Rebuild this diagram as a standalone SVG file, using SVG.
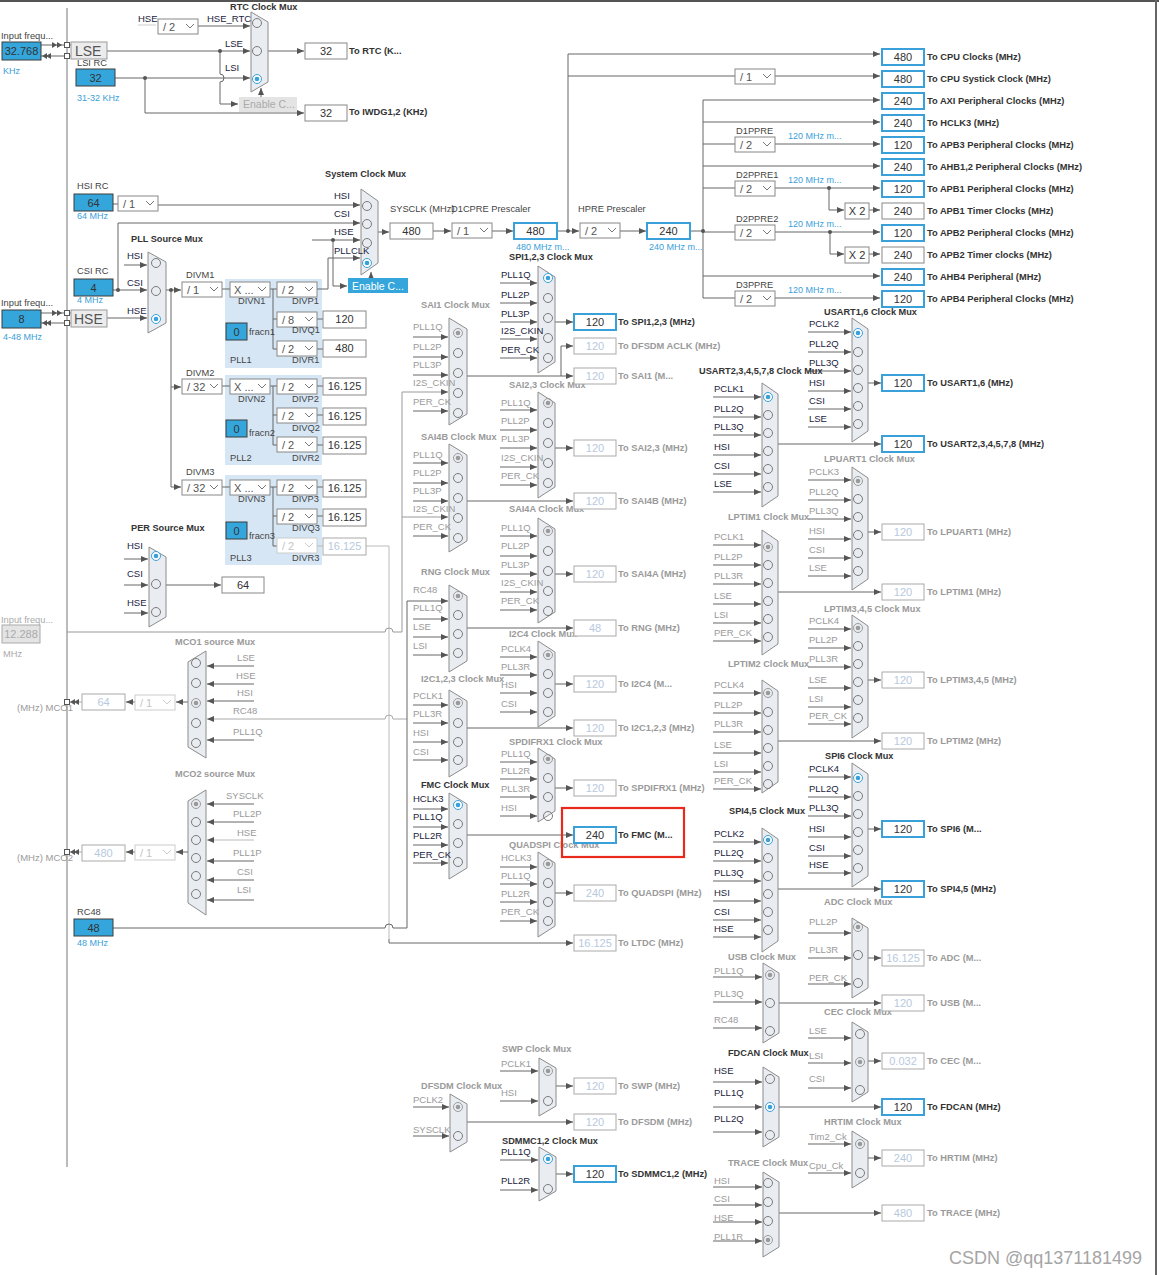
<svg xmlns="http://www.w3.org/2000/svg" width="1159" height="1275" viewBox="0 0 1159 1275" font-family="'Liberation Sans', Arial, sans-serif">
<defs>
<marker id="ar" markerWidth="7" markerHeight="6" refX="7" refY="3" orient="auto" markerUnits="userSpaceOnUse"><path d="M0,0L7,3L0,6z" fill="#555"/></marker>
<g id="c0"><circle r="4.5" fill="none" stroke="#7a7a7a"/></g>
<g id="c1"><circle r="4.5" fill="#fff" stroke="#3aa0da"/><circle r="2.3" fill="#3aa0da"/></g>
<g id="c2"><circle r="4.5" fill="none" stroke="#9a9a9a"/><circle r="2.3" fill="#9a9a9a"/></g>
<g id="dd"><rect width="40" height="15" fill="#fff" stroke="#888"/><polyline points="28,5 32,9 36,5" fill="none" stroke="#777"/></g>
<g id="ddg"><rect width="40" height="15" fill="#fff" stroke="#ccc"/><polyline points="28,5 32,9 36,5" fill="none" stroke="#ccc"/></g>
</defs>
<style>
.h{font-size:9.2px;font-weight:bold;fill:#333}
.hg{font-size:9.2px;font-weight:bold;fill:#9a9a9a}
.l{font-size:9.5px;fill:#1c2340}
.lg{font-size:9.5px;fill:#9a9a9a}
.t{font-size:9.3px;font-weight:bold;fill:#333}
.tg{font-size:9.3px;font-weight:bold;fill:#9a9a9a}
.v{font-size:11px;fill:#333;text-anchor:middle}
.vg{font-size:11px;fill:#b7c9de;text-anchor:middle}
.b{font-size:9px;fill:#3aa0da}
.d{font-size:11px;fill:#555}
.dg{font-size:11px;fill:#c4c4c4}
.s{font-size:9.3px;fill:#444}
.sg{font-size:9.3px;fill:#aaa}
.vb{fill:#fff;stroke:#888}
.vbb{fill:#fff;stroke:#3aa0da;stroke-width:2}
.vbg{fill:#fff;stroke:#aaa}
.src{fill:#35a6db;stroke:#3d3d3d}
.mx{fill:#e9edf1;stroke:#8c8c8c}
.a{marker-end:url(#ar)}
.pll{fill:#d6e6f4}
</style>
<rect width="1159" height="1275" fill="#fff"/>
<line x1="0" y1="1" x2="1159" y2="1" stroke="#555" stroke-width="2"/>
<line x1="1156" y1="0" x2="1156" y2="1275" stroke="#666" stroke-width="2"/>
<line x1="67" y1="8" x2="67" y2="1167" stroke="#777"/>

<rect class="pll" x="225" y="279" width="97" height="89"/>
<rect class="pll" x="225" y="375" width="97" height="90"/>
<rect class="pll" x="225" y="475" width="97" height="90"/>

<g id="connectors" fill="none" stroke="#666" stroke-width="1">
<path d="M41,45H64M41,56H64M69,45H71M69,56H71M41,313H64M41,323H64M69,313H71M69,323H71"/>
<path d="M82,702H64M82,852H64" stroke="#aaa"/>
<path d="M138,25H156" stroke="#ccc"/>
<path class="a" d="M197,26H250"/>
<path class="a" d="M107,51H250"/>
<path class="a" d="M115,78H250"/>
<path class="a" d="M220,51V74a4,4 0 0 1 0,8V104H238"/>
<path class="a" d="M261,97V88"/>
<path class="a" d="M268,51H304"/>
<path class="a" d="M145,78V113H304"/>
<path d="M113,204H118"/>
<path class="a" d="M157,205H360"/>
<path class="a" d="M113,290H147"/>
<path class="a" d="M118,290V223H360"/>
<path class="a" d="M124,265H147"/>
<path class="a" d="M107,318H147"/>
<path class="a" d="M312,240H360"/>
<path class="a" d="M333,240V286H347"/>
<path class="a" d="M317,289H328V258H360"/>
<path class="a" d="M371,280V272"/>
<path class="a" d="M378,232H389"/>
<path class="a" d="M433,231H451"/>
<path class="a" d="M492,231H513"/>
<path class="a" d="M557,231H579"/>
<path class="a" d="M568,231V54H880"/>
<path d="M568,76H735"/>
<path class="a" d="M775,76H880"/>
<path class="a" d="M620,231H646"/>
<path d="M690,231H703M703,100V298"/>
<path class="a" d="M703,100H880"/>
<path class="a" d="M703,122H880"/>
<path d="M703,144H735"/><path class="a" d="M775,144H880"/>
<path class="a" d="M703,166H880"/>
<path d="M703,188H735"/><path class="a" d="M775,188H880"/>
<path class="a" d="M829,188V210H844"/><path class="a" d="M869,210H880"/>
<path d="M703,232H735"/><path class="a" d="M775,232H880"/>
<path class="a" d="M830,232V254H844"/><path class="a" d="M869,254H880"/>
<path class="a" d="M703,276H880"/>
<path d="M703,298H735"/><path class="a" d="M775,298H880"/>
<path class="a" d="M166,290H181"/>
<path d="M171,290V487"/>
<path class="a" d="M171,387H181"/>
<path class="a" d="M171,487H181"/>
<path d="M221,289H230M270,289H277M273,289V349M273,319H277M273,349H277M317,319H323M317,349H323"/>
<path d="M221,386H230M270,386H277M273,386V445M273,415H277M273,445H277M317,386H323M317,415H323M317,445H323"/>
<path d="M221,487H230M270,487H277M273,487V546M273,516H277M273,546H277M317,487H323M317,516H323"/>
<path d="M317,546H323M366,546H389V939" stroke="#bbb"/>
<path class="a" d="M389,939V943H573"/>
<path class="a" d="M124,559H148"/><path class="a" d="M124,585H148"/><path class="a" d="M124,613H148"/>
<path class="a" d="M166,585H221"/>
<path class="a" d="M67,632H385a4,4 0 0 1 8,0H402V392H448" stroke="#999"/>
<path class="a" d="M402,517H448" stroke="#999"/>
<path class="a" d="M254,666H207"/><path class="a" d="M254,684H207"/><path class="a" d="M254,701H207"/>
<path class="a" d="M407,719H393a4,4 0 0 0 -8,0H207" stroke="#aaa"/>
<path class="a" d="M254,740H207"/>
<path class="a" d="M188,702H176"/><path class="a" d="M135,702H126"/>
<path class="a" d="M254,804H207"/><path class="a" d="M254,822H207"/><path class="a" d="M254,840H207" stroke="#bbb"/>
<path class="a" d="M254,861H207"/><path class="a" d="M254,880H207"/><path class="a" d="M254,900H207"/>
<path class="a" d="M188,852H176"/><path class="a" d="M135,852H126"/>
<path class="a" d="M113,928H385a4,4 0 0 1 8,0H407V601H448"/>
<path class="a" d="M500,283H537"/><path class="a" d="M500,303H537"/><path class="a" d="M500,322H537"/><path class="a" d="M500,339H537"/><path class="a" d="M500,358H537"/>
<path class="a" d="M413,337H448"/><path class="a" d="M413,357H448"/><path class="a" d="M413,375H448"/><path class="a" d="M413,411H448"/>
<path class="a" d="M500,410H537"/><path class="a" d="M500,430H537"/><path class="a" d="M500,448H537"/><path class="a" d="M500,467H537"/><path class="a" d="M500,485H537"/>
<path class="a" d="M413,463H448"/><path class="a" d="M413,483H448"/><path class="a" d="M413,501H448"/><path class="a" d="M413,536H448"/>
<path class="a" d="M500,536H537"/><path class="a" d="M500,556H537"/><path class="a" d="M500,574H537"/><path class="a" d="M500,592H537"/><path class="a" d="M500,610H537"/>
<path class="a" d="M413,619H448"/><path class="a" d="M413,637H448"/><path class="a" d="M413,655H448"/>
<path class="a" d="M500,657H537"/><path class="a" d="M500,675H537"/><path class="a" d="M500,693H537"/><path class="a" d="M500,712H537"/>
<path class="a" d="M413,705H448"/><path class="a" d="M413,723H448"/><path class="a" d="M413,742H448"/><path class="a" d="M413,760H448"/>
<path class="a" d="M500,762H537"/><path class="a" d="M500,779H537"/><path class="a" d="M500,797H537"/><path class="a" d="M500,816H537"/>
<path class="a" d="M413,809H448"/><path class="a" d="M413,827H448"/><path class="a" d="M413,845H448"/><path class="a" d="M413,863H448"/>
<path class="a" d="M500,867H537"/><path class="a" d="M500,884H537"/><path class="a" d="M500,902H537"/><path class="a" d="M500,921H537"/>
<path class="a" d="M500,1071H538"/><path class="a" d="M500,1101H538"/>
<path class="a" d="M413,1107H449"/><path class="a" d="M413,1136H449"/>
<path class="a" d="M500,1160H538"/><path class="a" d="M500,1190H538"/>
<path class="a" d="M555,322H573"/>
<path class="a" d="M467,376H573"/><path class="a" d="M561,376V346H573"/>
<path class="a" d="M555,448H573"/>
<path class="a" d="M467,501H573"/>
<path class="a" d="M555,574H573"/>
<path class="a" d="M467,628H573"/>
<path class="a" d="M555,684H573"/>
<path class="a" d="M467,728H573"/>
<path class="a" d="M555,788H573"/>
<path class="a" d="M467,835H573"/>
<path class="a" d="M555,893H573"/>
<path class="a" d="M556,1086H573"/>
<path class="a" d="M467,1122H573"/>
<path class="a" d="M556,1174H573"/>
<path class="a" d="M808,332H851"/><path class="a" d="M808,352H851"/><path class="a" d="M808,371H851"/><path class="a" d="M808,391H851"/><path class="a" d="M808,409H851"/><path class="a" d="M808,427H851"/>
<path class="a" d="M713,397H761"/><path class="a" d="M713,417H761"/><path class="a" d="M713,435H761"/><path class="a" d="M713,455H761"/><path class="a" d="M713,474H761"/><path class="a" d="M713,492H761"/>
<path class="a" d="M808,480H851"/><path class="a" d="M808,500H851"/><path class="a" d="M808,519H851"/><path class="a" d="M808,539H851"/><path class="a" d="M808,558H851"/><path class="a" d="M808,576H851"/>
<path class="a" d="M713,545H761"/><path class="a" d="M713,565H761"/><path class="a" d="M713,584H761"/><path class="a" d="M713,604H761"/><path class="a" d="M713,623H761"/><path class="a" d="M713,641H761"/>
<path class="a" d="M808,629H851"/><path class="a" d="M808,648H851"/><path class="a" d="M808,667H851"/><path class="a" d="M808,688H851"/><path class="a" d="M808,707H851"/><path class="a" d="M808,724H851"/>
<path class="a" d="M713,693H761"/><path class="a" d="M713,713H761"/><path class="a" d="M713,732H761"/><path class="a" d="M713,753H761"/><path class="a" d="M713,772H761"/><path class="a" d="M713,789H761"/>
<path class="a" d="M808,777H851"/><path class="a" d="M808,797H851"/><path class="a" d="M808,816H851"/><path class="a" d="M808,837H851"/><path class="a" d="M808,856H851"/><path class="a" d="M808,873H851"/>
<path class="a" d="M713,842H761"/><path class="a" d="M713,861H761"/><path class="a" d="M713,881H761"/><path class="a" d="M713,901H761"/><path class="a" d="M713,920H761"/><path class="a" d="M713,937H761"/>
<path class="a" d="M808,933H851"/><path class="a" d="M808,958H851"/><path class="a" d="M808,984H851"/>
<path class="a" d="M713,977H762"/><path class="a" d="M713,1002H762"/><path class="a" d="M713,1028H762"/>
<path class="a" d="M808,1038H851"/><path class="a" d="M808,1063H851"/><path class="a" d="M808,1088H851"/>
<path class="a" d="M713,1082H762"/><path class="a" d="M713,1107H762"/><path class="a" d="M713,1132H762"/>
<path class="a" d="M808,1144H851"/><path class="a" d="M808,1173H851"/>
<path class="a" d="M713,1187H762"/><path class="a" d="M713,1205H762"/><path class="a" d="M713,1222H762"/><path class="a" d="M713,1241H762"/>
<path class="a" d="M868,383H881"/>
<path class="a" d="M778,444H881"/>
<path class="a" d="M868,532H881"/>
<path class="a" d="M778,592H881"/>
<path class="a" d="M868,680H881"/>
<path class="a" d="M778,741H881"/>
<path class="a" d="M868,829H881"/>
<path class="a" d="M778,889H881"/>
<path class="a" d="M868,958H881"/>
<path class="a" d="M779,1003H881"/>
<path class="a" d="M868,1061H881"/>
<path class="a" d="M779,1107H881"/>
<path class="a" d="M868,1158H881"/>
<path class="a" d="M779,1213H881"/>
<g fill="#555" stroke="none">
<circle cx="220" cy="51" r="2"/><circle cx="145" cy="78" r="2"/><circle cx="118" cy="290" r="2"/><circle cx="333" cy="240" r="2"/>
<circle cx="171" cy="290" r="2"/><circle cx="568" cy="231" r="2"/><circle cx="703" cy="231" r="2"/><circle cx="829" cy="188" r="2"/><circle cx="830" cy="232" r="2"/>
<polygon points="52,42 57,45 52,48"/><polygon points="57,42 62,45 57,48"/>
<polygon points="42,56 47,53 47,59"/><polygon points="46,56 51,53 51,59"/>
<polygon points="52,310 57,313 52,316"/><polygon points="57,310 62,313 57,316"/>
<polygon points="42,323 47,320 47,326"/><polygon points="46,323 51,320 51,326"/>
<polygon points="70,702 75,699 75,705"/><polygon points="74,702 79,699 79,705"/>
<polygon points="70,852 75,849 75,855"/><polygon points="74,852 79,849 79,855"/>
</g>
<g fill="#fff" stroke="#555">
<rect x="64.5" y="42.5" width="5" height="5"/><rect x="64.5" y="53.5" width="5" height="5"/>
<rect x="64.5" y="310.5" width="5" height="5"/><rect x="64.5" y="320.5" width="5" height="5"/>
<rect x="64.5" y="699.5" width="5" height="5"/><rect x="64.5" y="849.5" width="5" height="5"/>
</g>
</g>

<g id="lse-input"><text class="s" x="1" y="39">Input frequ...</text><rect class="src" x="2" y="42" width="39" height="18"/><text class="v" x="21.5" y="55">32.768</text><text class="b" x="3" y="74">KHz</text></g>
<g id="lse"><rect x="71" y="42" width="36" height="17" fill="#ececec" stroke="#999"/><text x="75" y="56" font-size="14" fill="#555">LSE</text></g>
<g id="lsi-rc"><text class="s" x="77" y="66">LSI RC</text><rect class="src" x="76" y="69" width="39" height="17"/><text class="v" x="95.5" y="82">32</text><text class="b" x="77" y="101">31-32 KHz</text></g>
<g id="rtc-mux">
<polygon class="mx" points="251,12 268,22 268,82 251,92"/>
<use href="#c0" x="257" y="23"/><use href="#c0" x="257" y="51"/><use href="#c1" x="257" y="79"/>
<text class="h" x="230" y="10">RTC Clock Mux</text>
<text class="l" x="138" y="22">HSE</text><text class="l" x="207" y="22">HSE_RTC</text>
<use href="#dd" x="158" y="19"/><text class="d" x="163" y="31">/ 2</text>
<text class="l" x="225" y="47">LSE</text><text class="l" x="225" y="71">LSI</text>
</g>
<g id="enable-rtc"><rect x="239" y="97" width="58" height="15" fill="#e4e4e4"/><text x="243" y="108" font-size="10.5" fill="#aaa">Enable C...</text></g>
<g id="to-rtc"><rect class="vb" x="305" y="43" width="42" height="16"/><text class="v" x="326" y="55">32</text><text class="t" x="349" y="54">To RTC (K...</text></g>
<g id="to-iwdg"><rect class="vb" x="305" y="105" width="42" height="16"/><text class="v" x="326" y="117">32</text><text class="t" x="349" y="115">To IWDG1,2 (KHz)</text></g>

<g id="hsi-rc"><text class="s" x="77" y="189">HSI RC</text><rect class="src" x="74" y="194" width="39" height="17"/><text class="v" x="93.5" y="207">64</text><text class="b" x="77" y="219">64 MHz</text></g>
<g id="hsi-div"><use href="#dd" x="118" y="196"/><text class="d" x="123" y="208">/ 1</text></g>
<g id="csi-rc"><text class="s" x="77" y="274">CSI RC</text><rect class="src" x="74" y="279" width="39" height="17"/><text class="v" x="93.5" y="292">4</text><text class="b" x="77" y="303">4 MHz</text></g>
<g id="hse-input"><text class="s" x="1" y="306">Input frequ...</text><rect class="src" x="2" y="310" width="39" height="18"/><text class="v" x="21.5" y="323">8</text><text class="b" x="3" y="340">4-48 MHz</text></g>
<g id="hse"><rect x="71" y="310" width="36" height="17" fill="#ececec" stroke="#999"/><text x="74" y="324" font-size="14" fill="#555">HSE</text></g>

<g id="pll-source-mux">
<polygon class="mx" points="148,252 166,262 166,323 148,333"/>
<use href="#c0" x="156" y="263"/><use href="#c0" x="156" y="291"/><use href="#c1" x="156" y="319"/>
<text class="h" x="131" y="242">PLL Source Mux</text>
<text class="l" x="127" y="259">HSI</text><text class="l" x="127" y="286">CSI</text><text class="l" x="127" y="314">HSE</text>
</g>

<g id="system-clock-mux">
<polygon class="mx" points="361,189 378,201 378,263 361,275"/>
<use href="#c0" x="367" y="206"/><use href="#c0" x="367" y="224"/><use href="#c0" x="367" y="243"/><use href="#c1" x="367" y="263"/>
<text class="h" x="325" y="177">System Clock Mux</text>
<text class="l" x="334" y="199">HSI</text><text class="l" x="334" y="217">CSI</text><text class="l" x="334" y="235">HSE</text><text class="l" x="334" y="254">PLLCLK</text>
</g>
<g id="enable-sys"><rect x="348" y="278" width="60" height="15" fill="#35a6db"/><text x="352" y="290" font-size="10.5" fill="#fff">Enable C...</text></g>

<g id="sysclk"><text class="s" x="390" y="212">SYSCLK (MHz)</text><rect class="vb" x="390" y="223" width="43" height="16"/><text class="v" x="411.5" y="235">480</text></g>
<g id="d1cpre"><text class="s" x="451" y="212">D1CPRE Prescaler</text><use href="#dd" x="452" y="223"/><text class="d" x="457" y="235">/ 1</text></g>
<g id="d1cpre-out"><rect class="vbb" x="514" y="223" width="43" height="16"/><text class="v" x="535.5" y="235">480</text><text class="b" x="516" y="250">480 MHz m...</text></g>
<g id="hpre"><text class="s" x="578" y="212">HPRE Prescaler</text><use href="#dd" x="580" y="223"/><text class="d" x="585" y="235">/ 2</text></g>
<g id="hpre-out"><rect class="vbb" x="647" y="223" width="43" height="16"/><text class="v" x="668.5" y="235">240</text><text class="b" x="649" y="250">240 MHz m...</text></g>
<g id="systick-div"><use href="#dd" x="735" y="69"/><text class="d" x="740" y="81">/ 1</text></g>
<g id="d1ppre"><text class="s" x="736" y="134">D1PPRE</text><use href="#dd" x="735" y="137"/><text class="d" x="740" y="149">/ 2</text><text class="b" x="788" y="139">120 MHz m...</text></g>
<g id="d2ppre1"><text class="s" x="736" y="178">D2PPRE1</text><use href="#dd" x="735" y="181"/><text class="d" x="740" y="193">/ 2</text><text class="b" x="788" y="183">120 MHz m...</text></g>
<g id="d2ppre2"><text class="s" x="736" y="222">D2PPRE2</text><use href="#dd" x="735" y="225"/><text class="d" x="740" y="237">/ 2</text><text class="b" x="788" y="227">120 MHz m...</text></g>
<g id="d3ppre"><text class="s" x="736" y="288">D3PPRE</text><use href="#dd" x="735" y="291"/><text class="d" x="740" y="303">/ 2</text><text class="b" x="788" y="293">120 MHz m...</text></g>
<g id="x2-apb1"><rect class="vb" x="845" y="203" width="24" height="16"/><text class="v" x="857" y="215">X 2</text></g>
<g id="x2-apb2"><rect class="vb" x="845" y="247" width="24" height="16"/><text class="v" x="857" y="259">X 2</text></g>

<g id="bus-outputs">
<rect class="vbb" x="882" y="49" width="42" height="16"/><text class="v" x="903" y="61">480</text><text class="t" x="927" y="60">To CPU Clocks (MHz)</text>
<rect class="vbb" x="882" y="71" width="42" height="16"/><text class="v" x="903" y="83">480</text><text class="t" x="927" y="82">To CPU Systick Clock (MHz)</text>
<rect class="vbb" x="882" y="93" width="42" height="16"/><text class="v" x="903" y="105">240</text><text class="t" x="927" y="104">To AXI Peripheral Clocks (MHz)</text>
<rect class="vbb" x="882" y="115" width="42" height="16"/><text class="v" x="903" y="127">240</text><text class="t" x="927" y="126">To HCLK3 (MHz)</text>
<rect class="vbb" x="882" y="137" width="42" height="16"/><text class="v" x="903" y="149">120</text><text class="t" x="927" y="148">To APB3 Peripheral Clocks (MHz)</text>
<rect class="vbb" x="882" y="159" width="42" height="16"/><text class="v" x="903" y="171">240</text><text class="t" x="927" y="170">To AHB1,2 Peripheral Clocks (MHz)</text>
<rect class="vbb" x="882" y="181" width="42" height="16"/><text class="v" x="903" y="193">120</text><text class="t" x="927" y="192">To APB1 Peripheral Clocks (MHz)</text>
<rect class="vb" x="882" y="203" width="42" height="16"/><text class="v" x="903" y="215">240</text><text class="t" x="927" y="214">To APB1 Timer Clocks (MHz)</text>
<rect class="vbb" x="882" y="225" width="42" height="16"/><text class="v" x="903" y="237">120</text><text class="t" x="927" y="236">To APB2 Peripheral Clocks (MHz)</text>
<rect class="vb" x="882" y="247" width="42" height="16"/><text class="v" x="903" y="259">240</text><text class="t" x="927" y="258">To APB2 Timer clocks (MHz)</text>
<rect class="vbb" x="882" y="269" width="42" height="16"/><text class="v" x="903" y="281">240</text><text class="t" x="927" y="280">To AHB4 Peripheral (MHz)</text>
<rect class="vbb" x="882" y="291" width="42" height="16"/><text class="v" x="903" y="303">120</text><text class="t" x="927" y="302">To APB4 Peripheral Clocks (MHz)</text>
</g>

<g id="pll1">
<text class="s" x="186" y="278">DIVM1</text><use href="#dd" x="182" y="282"/><text class="d" x="187" y="294">/ 1</text>
<use href="#dd" x="230" y="282"/><text class="d" x="234" y="294">X ...</text><text class="s" x="238" y="304">DIVN1</text>
<use href="#dd" x="277" y="282"/><text class="d" x="282" y="294">/ 2</text><text class="s" x="292" y="304">DIVP1</text>
<use href="#dd" x="277" y="312"/><text class="d" x="282" y="324">/ 8</text><text class="s" x="292" y="333">DIVQ1</text>
<use href="#dd" x="277" y="341"/><text class="d" x="282" y="353">/ 2</text><text class="s" x="292" y="363">DIVR1</text>
<rect class="src" x="226" y="323" width="21" height="17"/><text class="v" x="236.5" y="336">0</text><text class="s" x="249" y="335">fracn1</text>
<text class="s" x="230" y="363">PLL1</text>
<rect class="vb" x="323" y="311" width="43" height="17"/><text class="v" x="344.5" y="323">120</text>
<rect class="vb" x="323" y="340" width="43" height="17"/><text class="v" x="344.5" y="352">480</text>
</g>
<g id="pll2">
<text class="s" x="186" y="376">DIVM2</text><use href="#dd" x="182" y="379"/><text class="d" x="187" y="391">/ 32</text>
<use href="#dd" x="230" y="379"/><text class="d" x="234" y="391">X ...</text><text class="s" x="238" y="402">DIVN2</text>
<use href="#dd" x="277" y="379"/><text class="d" x="282" y="391">/ 2</text><text class="s" x="292" y="402">DIVP2</text>
<use href="#dd" x="277" y="408"/><text class="d" x="282" y="420">/ 2</text><text class="s" x="292" y="431">DIVQ2</text>
<use href="#dd" x="277" y="437"/><text class="d" x="282" y="449">/ 2</text><text class="s" x="292" y="461">DIVR2</text>
<rect class="src" x="226" y="420" width="21" height="17"/><text class="v" x="236.5" y="433">0</text><text class="s" x="249" y="436">fracn2</text>
<text class="s" x="230" y="461">PLL2</text>
<rect class="vb" x="323" y="378" width="43" height="17"/><text class="v" x="344.5" y="390">16.125</text>
<rect class="vb" x="323" y="408" width="43" height="17"/><text class="v" x="344.5" y="420">16.125</text>
<rect class="vb" x="323" y="437" width="43" height="17"/><text class="v" x="344.5" y="449">16.125</text>
</g>
<g id="pll3">
<text class="s" x="186" y="475">DIVM3</text><use href="#dd" x="182" y="480"/><text class="d" x="187" y="492">/ 32</text>
<use href="#dd" x="230" y="480"/><text class="d" x="234" y="492">X ...</text><text class="s" x="238" y="502">DIVN3</text>
<use href="#dd" x="277" y="480"/><text class="d" x="282" y="492">/ 2</text><text class="s" x="292" y="502">DIVP3</text>
<use href="#dd" x="277" y="509"/><text class="d" x="282" y="521">/ 2</text><text class="s" x="292" y="531">DIVQ3</text>
<use href="#ddg" x="277" y="538"/><text class="dg" x="282" y="550">/ 2</text><text class="s" x="292" y="561">DIVR3</text>
<rect class="src" x="226" y="522" width="21" height="17"/><text class="v" x="236.5" y="535">0</text><text class="s" x="249" y="539">fracn3</text>
<text class="s" x="230" y="561">PLL3</text>
<rect class="vb" x="323" y="480" width="43" height="17"/><text class="v" x="344.5" y="492">16.125</text>
<rect class="vb" x="323" y="509" width="43" height="17"/><text class="v" x="344.5" y="521">16.125</text>
<rect class="vbg" x="323" y="538" width="43" height="17"/><text class="vg" x="344.5" y="550">16.125</text>
</g>

<g id="per-source-mux">
<polygon class="mx" points="149,547 166,557 166,617 149,627"/>
<use href="#c1" x="156" y="556"/><use href="#c0" x="156" y="584"/><use href="#c0" x="156" y="612"/>
<text class="h" x="131" y="531">PER Source Mux</text>
<text class="l" x="127" y="549">HSI</text><text class="l" x="127" y="577">CSI</text><text class="l" x="127" y="606">HSE</text>
</g>
<g id="per-out"><rect class="vb" x="222" y="577" width="42" height="16"/><text class="v" x="243" y="589">64</text></g>

<g id="i2s-input"><text class="sg" x="1" y="623">Input frequ...</text><rect x="2" y="625" width="38" height="18" fill="#e4e4e4" stroke="#aaa"/><text x="21" y="638" font-size="11" fill="#aaa" text-anchor="middle">12.288</text><text class="sg" x="3" y="657">MHz</text></g>

<g id="mco1-mux">
<polygon class="mx" points="206,651 188,662 188,747 206,758"/>
<use href="#c0" x="196" y="663"/><use href="#c0" x="196" y="683"/><use href="#c2" x="196" y="703"/><use href="#c0" x="196" y="723"/><use href="#c0" x="196" y="743"/>
<text class="hg" x="175" y="645">MCO1 source Mux</text>
<text class="lg" x="237" y="661">LSE</text><text class="lg" x="236" y="679">HSE</text><text class="lg" x="237" y="696">HSI</text><text class="lg" x="233" y="714">RC48</text><text class="lg" x="233" y="735">PLL1Q</text>
</g>
<g id="mco1-out"><use href="#ddg" x="135" y="695"/><text class="dg" x="140" y="707">/ 1</text><rect class="vbg" x="82" y="694" width="43" height="16"/><text class="vg" x="103.5" y="706">64</text><text class="lg" x="17" y="711">(MHz) MCO1</text></g>
<g id="mco2-mux">
<polygon class="mx" points="206,790 188,801 188,903 206,915"/>
<use href="#c2" x="196" y="804"/><use href="#c0" x="196" y="822"/><use href="#c0" x="196" y="840"/><use href="#c0" x="196" y="858"/><use href="#c0" x="196" y="876"/><use href="#c0" x="196" y="894"/>
<text class="hg" x="175" y="777">MCO2 source Mux</text>
<text class="lg" x="226" y="799">SYSCLK</text><text class="lg" x="233" y="817">PLL2P</text><text class="lg" x="237" y="836">HSE</text><text class="lg" x="233" y="856">PLL1P</text><text class="lg" x="237" y="875">CSI</text><text class="lg" x="237" y="893">LSI</text>
</g>
<g id="mco2-out"><use href="#ddg" x="135" y="845"/><text class="dg" x="140" y="857">/ 1</text><rect class="vbg" x="82" y="845" width="43" height="16"/><text class="vg" x="103.5" y="857">480</text><text class="lg" x="17" y="861">(MHz) MCO2</text></g>
<g id="rc48"><text class="s" x="77" y="915">RC48</text><rect class="src" x="74" y="919" width="39" height="17"/><text class="v" x="93.5" y="932">48</text><text class="b" x="77" y="946">48 MHz</text></g>

<g id="spi123-mux">
<polygon class="mx" points="538,266 555,277 555,362 538,373"/>
<use href="#c1" x="548" y="278"/><use href="#c0" x="548" y="298"/><use href="#c0" x="548" y="318"/><use href="#c0" x="548" y="338"/><use href="#c0" x="548" y="358"/>
<text class="h" x="509" y="260">SPI1,2,3 Clock Mux</text>
<text class="l" x="501" y="278">PLL1Q</text><text class="l" x="501" y="298">PLL2P</text><text class="l" x="501" y="317">PLL3P</text><text class="l" x="501" y="334">I2S_CKIN</text><text class="l" x="501" y="353">PER_CK</text>
</g>
<g id="sai1-mux">
<polygon class="mx" points="449,318 467,329 467,414 449,425"/>
<use href="#c2" x="458" y="333"/><use href="#c0" x="458" y="353"/><use href="#c0" x="458" y="373"/><use href="#c0" x="458" y="393"/><use href="#c0" x="458" y="413"/>
<text class="hg" x="421" y="308">SAI1 Clock Mux</text>
<text class="lg" x="413" y="330">PLL1Q</text><text class="lg" x="413" y="350">PLL2P</text><text class="lg" x="413" y="368">PLL3P</text><text class="lg" x="413" y="386">I2S_CKIN</text><text class="lg" x="413" y="405">PER_CK</text>
</g>
<g id="sai23-mux">
<polygon class="mx" points="538,392 555,403 555,487 538,498"/>
<use href="#c2" x="548" y="403"/><use href="#c0" x="548" y="423"/><use href="#c0" x="548" y="443"/><use href="#c0" x="548" y="463"/><use href="#c0" x="548" y="483"/>
<text class="hg" x="509" y="388">SAI2,3 Clock Mux</text>
<text class="lg" x="501" y="406">PLL1Q</text><text class="lg" x="501" y="424">PLL2P</text><text class="lg" x="501" y="442">PLL3P</text><text class="lg" x="501" y="461">I2S_CKIN</text><text class="lg" x="501" y="479">PER_CK</text>
</g>
<g id="sai4b-mux">
<polygon class="mx" points="449,444 467,455 467,541 449,552"/>
<use href="#c2" x="458" y="458"/><use href="#c0" x="458" y="478"/><use href="#c0" x="458" y="498"/><use href="#c0" x="458" y="518"/><use href="#c0" x="458" y="538"/>
<text class="hg" x="421" y="440">SAI4B Clock Mux</text>
<text class="lg" x="413" y="458">PLL1Q</text><text class="lg" x="413" y="476">PLL2P</text><text class="lg" x="413" y="494">PLL3P</text><text class="lg" x="413" y="512">I2S_CKIN</text><text class="lg" x="413" y="530">PER_CK</text>
</g>
<g id="sai4a-mux">
<polygon class="mx" points="538,518 555,529 555,612 538,623"/>
<use href="#c2" x="548" y="531"/><use href="#c0" x="548" y="551"/><use href="#c0" x="548" y="571"/><use href="#c0" x="548" y="591"/><use href="#c0" x="548" y="611"/>
<text class="hg" x="509" y="512">SAI4A Clock Mux</text>
<text class="lg" x="501" y="531">PLL1Q</text><text class="lg" x="501" y="549">PLL2P</text><text class="lg" x="501" y="568">PLL3P</text><text class="lg" x="501" y="586">I2S_CKIN</text><text class="lg" x="501" y="604">PER_CK</text>
</g>
<g id="rng-mux">
<polygon class="mx" points="449,585 467,596 467,661 449,672"/>
<use href="#c2" x="458" y="596"/><use href="#c0" x="458" y="615"/><use href="#c0" x="458" y="634"/><use href="#c0" x="458" y="653"/>
<text class="hg" x="421" y="575">RNG Clock Mux</text>
<text class="lg" x="413" y="593">RC48</text><text class="lg" x="413" y="611">PLL1Q</text><text class="lg" x="413" y="630">LSE</text><text class="lg" x="413" y="649">LSI</text>
</g>
<g id="i2c4-mux">
<polygon class="mx" points="538,641 555,652 555,716 538,727"/>
<use href="#c2" x="548" y="655"/><use href="#c0" x="548" y="674"/><use href="#c0" x="548" y="693"/><use href="#c0" x="548" y="712"/>
<text class="hg" x="509" y="637">I2C4 Clock Mux</text>
<text class="lg" x="501" y="652">PCLK4</text><text class="lg" x="501" y="670">PLL3R</text><text class="lg" x="501" y="688">HSI</text><text class="lg" x="501" y="707">CSI</text>
</g>
<g id="i2c123-mux">
<polygon class="mx" points="449,690 467,701 467,766 449,777"/>
<use href="#c2" x="458" y="703"/><use href="#c0" x="458" y="723"/><use href="#c0" x="458" y="742"/><use href="#c0" x="458" y="760"/>
<text class="hg" x="421" y="682">I2C1,2,3 Clock Mux</text>
<text class="lg" x="413" y="699">PCLK1</text><text class="lg" x="413" y="717">PLL3R</text><text class="lg" x="413" y="736">HSI</text><text class="lg" x="413" y="755">CSI</text>
</g>
<g id="spdifrx1-mux">
<polygon class="mx" points="538,748 555,759 555,811 538,822"/>
<use href="#c2" x="548" y="759"/><use href="#c0" x="548" y="778"/><use href="#c0" x="548" y="797"/><use href="#c0" x="548" y="816"/>
<text class="hg" x="509" y="745">SPDIFRX1 Clock Mux</text>
<text class="lg" x="501" y="757">PLL1Q</text><text class="lg" x="501" y="774">PLL2R</text><text class="lg" x="501" y="792">PLL3R</text><text class="lg" x="501" y="811">HSI</text>
</g>
<g id="fmc-mux">
<polygon class="mx" points="449,793 467,804 467,868 449,879"/>
<use href="#c1" x="458" y="805"/><use href="#c0" x="458" y="824"/><use href="#c0" x="458" y="843"/><use href="#c0" x="458" y="862"/>
<text class="h" x="421" y="788">FMC Clock Mux</text>
<text class="l" x="413" y="802">HCLK3</text><text class="l" x="413" y="820">PLL1Q</text><text class="l" x="413" y="839">PLL2R</text><text class="l" x="413" y="858">PER_CK</text>
</g>
<g id="quadspi-mux">
<polygon class="mx" points="538,852 555,863 555,926 538,937"/>
<use href="#c2" x="548" y="864"/><use href="#c0" x="548" y="883"/><use href="#c0" x="548" y="902"/><use href="#c0" x="548" y="921"/>
<text class="hg" x="509" y="848">QUADSPI Clock Mux</text>
<text class="lg" x="501" y="861">HCLK3</text><text class="lg" x="501" y="879">PLL1Q</text><text class="lg" x="501" y="897">PLL2R</text><text class="lg" x="501" y="915">PER_CK</text>
</g>
<g id="swp-mux">
<polygon class="mx" points="539,1058 556,1068 556,1106 539,1116"/>
<use href="#c2" x="548" y="1071"/><use href="#c0" x="548" y="1101"/>
<text class="hg" x="502" y="1052">SWP Clock Mux</text>
<text class="lg" x="501" y="1067">PCLK1</text><text class="lg" x="501" y="1096">HSI</text>
</g>
<g id="dfsdm-mux">
<polygon class="mx" points="450,1094 467,1104 467,1142 450,1152"/>
<use href="#c2" x="458" y="1107"/><use href="#c0" x="458" y="1136"/>
<text class="hg" x="421" y="1089">DFSDM Clock Mux</text>
<text class="lg" x="413" y="1103">PCLK2</text><text class="lg" x="413" y="1133">SYSCLK</text>
</g>
<g id="sdmmc-mux">
<polygon class="mx" points="539,1147 556,1157 556,1191 539,1201"/>
<use href="#c1" x="548" y="1159"/><use href="#c0" x="548" y="1189"/>
<text class="h" x="502" y="1144">SDMMC1,2 Clock Mux</text>
<text class="l" x="501" y="1155">PLL1Q</text><text class="l" x="501" y="1184">PLL2R</text>
</g>

<g id="to-spi123"><rect class="vbb" x="574" y="314" width="42" height="16"/><text class="v" x="595" y="326">120</text><text class="t" x="618" y="325">To SPI1,2,3 (MHz)</text></g>
<g id="to-dfsdm-aclk"><rect class="vbg" x="574" y="338" width="42" height="16"/><text class="vg" x="595" y="350">120</text><text class="tg" x="618" y="349">To DFSDM ACLK (MHz)</text></g>
<g id="to-sai1"><rect class="vbg" x="574" y="368" width="42" height="16"/><text class="vg" x="595" y="380">120</text><text class="tg" x="618" y="379">To SAI1 (M...</text></g>
<g id="to-sai23"><rect class="vbg" x="574" y="440" width="42" height="16"/><text class="vg" x="595" y="452">120</text><text class="tg" x="618" y="451">To SAI2,3 (MHz)</text></g>
<g id="to-sai4b"><rect class="vbg" x="574" y="493" width="42" height="16"/><text class="vg" x="595" y="505">120</text><text class="tg" x="618" y="504">To SAI4B (MHz)</text></g>
<g id="to-sai4a"><rect class="vbg" x="574" y="566" width="42" height="16"/><text class="vg" x="595" y="578">120</text><text class="tg" x="618" y="577">To SAI4A (MHz)</text></g>
<g id="to-rng"><rect class="vbg" x="574" y="620" width="42" height="16"/><text class="vg" x="595" y="632">48</text><text class="tg" x="618" y="631">To RNG (MHz)</text></g>
<g id="to-i2c4"><rect class="vbg" x="574" y="676" width="42" height="16"/><text class="vg" x="595" y="688">120</text><text class="tg" x="618" y="687">To I2C4 (M...</text></g>
<g id="to-i2c123"><rect class="vbg" x="574" y="720" width="42" height="16"/><text class="vg" x="595" y="732">120</text><text class="tg" x="618" y="731">To I2C1,2,3 (MHz)</text></g>
<g id="to-spdifrx1"><rect class="vbg" x="574" y="780" width="42" height="16"/><text class="vg" x="595" y="792">120</text><text class="tg" x="618" y="791">To SPDIFRX1 (MHz)</text></g>
<g id="to-fmc"><rect class="vbb" x="574" y="827" width="42" height="16"/><text class="v" x="595" y="839">240</text><text class="t" x="618" y="838">To FMC (M...</text><rect x="562" y="808" width="122" height="49" fill="none" stroke="#e8291c" stroke-width="2.2"/></g>
<g id="to-quadspi"><rect class="vbg" x="574" y="885" width="42" height="16"/><text class="vg" x="595" y="897">240</text><text class="tg" x="618" y="896">To QUADSPI (MHz)</text></g>
<g id="to-ltdc"><rect class="vbg" x="574" y="935" width="42" height="16"/><text class="vg" x="595" y="947">16.125</text><text class="tg" x="618" y="946">To LTDC (MHz)</text></g>
<g id="to-swp"><rect class="vbg" x="574" y="1078" width="42" height="16"/><text class="vg" x="595" y="1090">120</text><text class="tg" x="618" y="1089">To SWP (MHz)</text></g>
<g id="to-dfsdm"><rect class="vbg" x="574" y="1114" width="42" height="16"/><text class="vg" x="595" y="1126">120</text><text class="tg" x="618" y="1125">To DFSDM (MHz)</text></g>
<g id="to-sdmmc"><rect class="vbb" x="574" y="1166" width="42" height="16"/><text class="v" x="595" y="1178">120</text><text class="t" x="618" y="1177">To SDMMC1,2 (MHz)</text></g>

<g id="usart16-mux">
<polygon class="mx" points="852,318 868,329 868,431 852,442"/>
<use href="#c1" x="858" y="333"/><use href="#c0" x="858" y="352"/><use href="#c0" x="858" y="370"/><use href="#c0" x="858" y="388"/><use href="#c0" x="858" y="406"/><use href="#c0" x="858" y="424"/>
<text class="h" x="824" y="315">USART1,6 Clock Mux</text>
<text class="l" x="809" y="327">PCLK2</text><text class="l" x="809" y="347">PLL2Q</text><text class="l" x="809" y="366">PLL3Q</text><text class="l" x="809" y="386">HSI</text><text class="l" x="809" y="404">CSI</text><text class="l" x="809" y="422">LSE</text>
</g>
<g id="usart2-mux">
<polygon class="mx" points="762,383 778,394 778,496 762,507"/>
<use href="#c1" x="768" y="397"/><use href="#c0" x="768" y="415"/><use href="#c0" x="768" y="433"/><use href="#c0" x="768" y="451"/><use href="#c0" x="768" y="469"/><use href="#c0" x="768" y="487"/>
<text class="h" x="699" y="374">USART2,3,4,5,7,8 Clock Mux</text>
<text class="l" x="714" y="392">PCLK1</text><text class="l" x="714" y="412">PLL2Q</text><text class="l" x="714" y="430">PLL3Q</text><text class="l" x="714" y="450">HSI</text><text class="l" x="714" y="469">CSI</text><text class="l" x="714" y="487">LSE</text>
</g>
<g id="lpuart1-mux">
<polygon class="mx" points="852,467 868,478 868,579 852,590"/>
<use href="#c2" x="858" y="481"/><use href="#c0" x="858" y="499"/><use href="#c0" x="858" y="517"/><use href="#c0" x="858" y="535"/><use href="#c0" x="858" y="553"/><use href="#c0" x="858" y="571"/>
<text class="hg" x="824" y="462">LPUART1 Clock Mux</text>
<text class="lg" x="809" y="475">PCLK3</text><text class="lg" x="809" y="495">PLL2Q</text><text class="lg" x="809" y="514">PLL3Q</text><text class="lg" x="809" y="534">HSI</text><text class="lg" x="809" y="553">CSI</text><text class="lg" x="809" y="571">LSE</text>
</g>
<g id="lptim1-mux">
<polygon class="mx" points="762,530 778,541 778,644 762,655"/>
<use href="#c2" x="768" y="547"/><use href="#c0" x="768" y="565"/><use href="#c0" x="768" y="583"/><use href="#c0" x="768" y="601"/><use href="#c0" x="768" y="619"/><use href="#c0" x="768" y="637"/>
<text class="hg" x="728" y="520">LPTIM1 Clock Mux</text>
<text class="lg" x="714" y="540">PCLK1</text><text class="lg" x="714" y="560">PLL2P</text><text class="lg" x="714" y="579">PLL3R</text><text class="lg" x="714" y="599">LSE</text><text class="lg" x="714" y="618">LSI</text><text class="lg" x="714" y="636">PER_CK</text>
</g>
<g id="lptim345-mux">
<polygon class="mx" points="852,615 868,626 868,727 852,738"/>
<use href="#c2" x="858" y="628"/><use href="#c0" x="858" y="646"/><use href="#c0" x="858" y="664"/><use href="#c0" x="858" y="682"/><use href="#c0" x="858" y="700"/><use href="#c0" x="858" y="718"/>
<text class="hg" x="824" y="612">LPTIM3,4,5 Clock Mux</text>
<text class="lg" x="809" y="624">PCLK4</text><text class="lg" x="809" y="643">PLL2P</text><text class="lg" x="809" y="662">PLL3R</text><text class="lg" x="809" y="683">LSE</text><text class="lg" x="809" y="702">LSI</text><text class="lg" x="809" y="719">PER_CK</text>
</g>
<g id="lptim2-mux">
<polygon class="mx" points="762,680 778,691 778,782 762,793"/>
<use href="#c2" x="768" y="693"/><use href="#c0" x="768" y="712"/><use href="#c0" x="768" y="730"/><use href="#c0" x="768" y="748"/><use href="#c0" x="768" y="766"/><use href="#c0" x="768" y="784"/>
<text class="hg" x="728" y="667">LPTIM2 Clock Mux</text>
<text class="lg" x="714" y="688">PCLK4</text><text class="lg" x="714" y="708">PLL2P</text><text class="lg" x="714" y="727">PLL3R</text><text class="lg" x="714" y="748">LSE</text><text class="lg" x="714" y="767">LSI</text><text class="lg" x="714" y="784">PER_CK</text>
</g>
<g id="spi6-mux">
<polygon class="mx" points="852,763 868,774 868,876 852,887"/>
<use href="#c1" x="858" y="778"/><use href="#c0" x="858" y="796"/><use href="#c0" x="858" y="814"/><use href="#c0" x="858" y="832"/><use href="#c0" x="858" y="850"/><use href="#c0" x="858" y="868"/>
<text class="h" x="825" y="759">SPI6 Clock Mux</text>
<text class="l" x="809" y="772">PCLK4</text><text class="l" x="809" y="792">PLL2Q</text><text class="l" x="809" y="811">PLL3Q</text><text class="l" x="809" y="832">HSI</text><text class="l" x="809" y="851">CSI</text><text class="l" x="809" y="868">HSE</text>
</g>
<g id="spi45-mux">
<polygon class="mx" points="762,828 778,839 778,941 762,952"/>
<use href="#c1" x="768" y="840"/><use href="#c0" x="768" y="858"/><use href="#c0" x="768" y="876"/><use href="#c0" x="768" y="894"/><use href="#c0" x="768" y="912"/><use href="#c0" x="768" y="930"/>
<text class="h" x="729" y="814">SPI4,5 Clock Mux</text>
<text class="l" x="714" y="837">PCLK2</text><text class="l" x="714" y="856">PLL2Q</text><text class="l" x="714" y="876">PLL3Q</text><text class="l" x="714" y="896">HSI</text><text class="l" x="714" y="915">CSI</text><text class="l" x="714" y="932">HSE</text>
</g>
<g id="adc-mux">
<polygon class="mx" points="852,918 868,928 868,988 852,998"/>
<use href="#c2" x="858" y="927"/><use href="#c0" x="858" y="955"/><use href="#c0" x="858" y="983"/>
<text class="hg" x="824" y="905">ADC Clock Mux</text>
<text class="lg" x="809" y="925">PLL2P</text><text class="lg" x="809" y="953">PLL3R</text><text class="lg" x="809" y="981">PER_CK</text>
</g>
<g id="usb-mux">
<polygon class="mx" points="763,963 779,973 779,1033 763,1043"/>
<use href="#c2" x="770" y="975"/><use href="#c0" x="770" y="1003"/><use href="#c0" x="770" y="1031"/>
<text class="hg" x="728" y="960">USB Clock Mux</text>
<text class="lg" x="714" y="974">PLL1Q</text><text class="lg" x="714" y="997">PLL3Q</text><text class="lg" x="714" y="1023">RC48</text>
</g>
<g id="cec-mux">
<polygon class="mx" points="852,1022 868,1032 868,1092 852,1102"/>
<use href="#c0" x="860" y="1034"/><use href="#c2" x="860" y="1062"/><use href="#c0" x="860" y="1090"/>
<text class="hg" x="824" y="1015">CEC Clock Mux</text>
<text class="lg" x="809" y="1034">LSE</text><text class="lg" x="809" y="1059">LSI</text><text class="lg" x="809" y="1082">CSI</text>
</g>
<g id="fdcan-mux">
<polygon class="mx" points="763,1067 779,1077 779,1137 763,1147"/>
<use href="#c0" x="770" y="1079"/><use href="#c1" x="770" y="1107"/><use href="#c0" x="770" y="1135"/>
<text class="h" x="728" y="1056">FDCAN Clock Mux</text>
<text class="l" x="714" y="1074">HSE</text><text class="l" x="714" y="1096">PLL1Q</text><text class="l" x="714" y="1122">PLL2Q</text>
</g>
<g id="hrtim-mux">
<polygon class="mx" points="852,1131 868,1141 868,1178 852,1188"/>
<use href="#c2" x="860" y="1144"/><use href="#c0" x="860" y="1173"/>
<text class="hg" x="824" y="1125">HRTIM Clock Mux</text>
<text class="lg" x="809" y="1140">Tim2_Ck</text><text class="lg" x="809" y="1169">Cpu_Ck</text>
</g>
<g id="trace-mux">
<polygon class="mx" points="763,1172 779,1182 779,1247 763,1257"/>
<use href="#c0" x="768" y="1183"/><use href="#c0" x="768" y="1202"/><use href="#c0" x="768" y="1221"/><use href="#c2" x="768" y="1240"/>
<text class="hg" x="728" y="1166">TRACE Clock Mux</text>
<text class="lg" x="714" y="1184">HSI</text><text class="lg" x="714" y="1202">CSI</text><text class="lg" x="714" y="1221">HSE</text><text class="lg" x="714" y="1240">PLL1R</text>
</g>

<g id="to-usart16"><rect class="vbb" x="882" y="375" width="42" height="16"/><text class="v" x="903" y="387">120</text><text class="t" x="927" y="386">To USART1,6 (MHz)</text></g>
<g id="to-usart2"><rect class="vbb" x="882" y="436" width="42" height="16"/><text class="v" x="903" y="448">120</text><text class="t" x="927" y="447">To USART2,3,4,5,7,8 (MHz)</text></g>
<g id="to-lpuart1"><rect class="vbg" x="882" y="524" width="42" height="16"/><text class="vg" x="903" y="536">120</text><text class="tg" x="927" y="535">To LPUART1 (MHz)</text></g>
<g id="to-lptim1"><rect class="vbg" x="882" y="584" width="42" height="16"/><text class="vg" x="903" y="596">120</text><text class="tg" x="927" y="595">To LPTIM1 (MHz)</text></g>
<g id="to-lptim345"><rect class="vbg" x="882" y="672" width="42" height="16"/><text class="vg" x="903" y="684">120</text><text class="tg" x="927" y="683">To LPTIM3,4,5 (MHz)</text></g>
<g id="to-lptim2"><rect class="vbg" x="882" y="733" width="42" height="16"/><text class="vg" x="903" y="745">120</text><text class="tg" x="927" y="744">To LPTIM2 (MHz)</text></g>
<g id="to-spi6"><rect class="vbb" x="882" y="821" width="42" height="16"/><text class="v" x="903" y="833">120</text><text class="t" x="927" y="832">To SPI6 (M...</text></g>
<g id="to-spi45"><rect class="vbb" x="882" y="881" width="42" height="16"/><text class="v" x="903" y="893">120</text><text class="t" x="927" y="892">To SPI4,5 (MHz)</text></g>
<g id="to-adc"><rect class="vbg" x="882" y="950" width="42" height="16"/><text class="vg" x="903" y="962">16.125</text><text class="tg" x="927" y="961">To ADC (M...</text></g>
<g id="to-usb"><rect class="vbg" x="882" y="995" width="42" height="16"/><text class="vg" x="903" y="1007">120</text><text class="tg" x="927" y="1006">To USB (M...</text></g>
<g id="to-cec"><rect class="vbg" x="882" y="1053" width="42" height="16"/><text class="vg" x="903" y="1065">0.032</text><text class="tg" x="927" y="1064">To CEC (M...</text></g>
<g id="to-fdcan"><rect class="vbb" x="882" y="1099" width="42" height="16"/><text class="v" x="903" y="1111">120</text><text class="t" x="927" y="1110">To FDCAN (MHz)</text></g>
<g id="to-hrtim"><rect class="vbg" x="882" y="1150" width="42" height="16"/><text class="vg" x="903" y="1162">240</text><text class="tg" x="927" y="1161">To HRTIM (MHz)</text></g>
<g id="to-trace"><rect class="vbg" x="882" y="1205" width="42" height="16"/><text class="vg" x="903" y="1217">480</text><text class="tg" x="927" y="1216">To TRACE (MHz)</text></g>

<text x="949" y="1264" font-size="18" fill="#a5a5a5">CSDN @qq1371181499</text>
</svg>
